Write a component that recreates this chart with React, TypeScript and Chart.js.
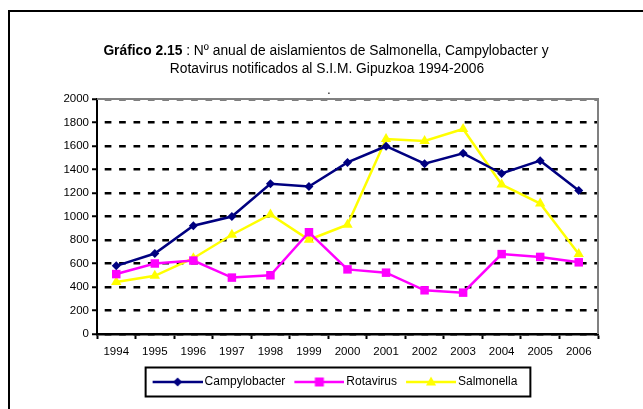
import React, { useEffect, useRef } from "react";
import { Chart, registerables } from "chart.js";

Chart.register(...registerables);

const years = ["1994","1995","1996","1997","1998","1999","2000","2001","2002","2003","2004","2005","2006"];
const campylobacter = [580, 685, 922, 1000, 1278, 1255, 1460, 1598, 1450, 1538, 1366, 1475, 1222];
const rotavirus = [510, 600, 625, 480, 500, 866, 550, 522, 372, 352, 680, 656, 610];
const salmonella = [442, 495, 645, 845, 1018, 802, 930, 1660, 1642, 1745, 1272, 1110, 680];
const seriesNames = ["Campylobacter", "Rotavirus", "Salmonella"];
const seriesColors = ["#000080", "#FF00FF", "#FFFF00"];
const seriesMarkers = ["rectRot", "rect", "triangle"];
const yTicks = { min: 0, max: 2000, step: 200 };
const titleBold = "Gráfico 2.15";
const titleRest = " : Nº anual de aislamientos de Salmonella, Campylobacter y";
const titleLine2 = "Rotavirus notificados al S.I.M. Gipuzkoa 1994-2006";

const FONT = "'Liberation Sans', Arial, sans-serif";
const TITLE_SIZE = 13.8;

function makeIcon(color: string, marker: string): HTMLCanvasElement {
  const c = document.createElement("canvas");
  c.width = 54;
  c.height = 14;
  const ctx = c.getContext("2d")!;
  ctx.strokeStyle = color;
  ctx.fillStyle = color;
  ctx.lineWidth = 2.5;
  ctx.beginPath();
  ctx.moveTo(4, 7);
  ctx.lineTo(54, 7);
  ctx.stroke();
  const cx = 29, cy = 7;
  ctx.beginPath();
  if (marker === "rectRot") {
    ctx.moveTo(cx, cy - 4.5); ctx.lineTo(cx + 4.5, cy); ctx.lineTo(cx, cy + 4.5); ctx.lineTo(cx - 4.5, cy);
  } else if (marker === "rect") {
    ctx.rect(cx - 4.5, cy - 4.5, 9, 9);
  } else {
    ctx.moveTo(cx, cy - 5.5); ctx.lineTo(cx + 5, cy + 3.5); ctx.lineTo(cx - 5, cy + 3.5);
  }
  ctx.closePath();
  ctx.fill();
  return c;
}

const decorPlugin = {
  id: "decor",
  beforeDatasetsDraw(chart: any) {
    const { ctx, chartArea } = chart;
    ctx.save();
    ctx.strokeStyle = "#808080";
    ctx.lineWidth = 2;
    ctx.beginPath();
    ctx.moveTo(chartArea.left, chartArea.top);
    ctx.lineTo(chartArea.right, chartArea.top);
    ctx.lineTo(chartArea.right, chartArea.bottom);
    ctx.stroke();
    ctx.restore();
  },
  afterDraw(chart: any) {
    const { ctx } = chart;
    ctx.save();
    // outer frame
    ctx.strokeStyle = "#000";
    ctx.lineWidth = 2;
    ctx.beginPath();
    ctx.moveTo(643, 11);
    ctx.lineTo(9, 11);
    ctx.lineTo(9, 409);
    ctx.stroke();
    // title
    ctx.fillStyle = "#000";
    ctx.textBaseline = "middle";
    ctx.font = `bold ${TITLE_SIZE}px ${FONT}`;
    const wb = ctx.measureText(titleBold).width;
    ctx.font = `${TITLE_SIZE}px ${FONT}`;
    const wr = ctx.measureText(titleRest).width;
    const x0 = 326 - (wb + wr) / 2;
    ctx.textAlign = "left";
    ctx.font = `bold ${TITLE_SIZE}px ${FONT}`;
    ctx.fillText(titleBold, x0, 51);
    ctx.font = `${TITLE_SIZE}px ${FONT}`;
    ctx.fillText(titleRest, x0 + wb, 51);
    ctx.textAlign = "center";
    ctx.fillText(titleLine2, 327, 69);
    ctx.font = `12px ${FONT}`;
    ctx.textBaseline = "alphabetic";
    ctx.fillText(".", 329, 94);
    // legend border
    const boxes = chart.legend && chart.legend.legendHitBoxes;
    if (boxes && boxes.length) {
      const first = boxes[0];
      const last = boxes[boxes.length - 1];
      const cy = first.top + first.height / 2;
      const left = first.left - 7;
      const right = last.left + last.width + 13;
      ctx.strokeStyle = "#000";
      ctx.lineWidth = 2;
      ctx.strokeRect(left, cy - 14.5, right - left, 29);
    }
    ctx.restore();
  },
};

export default function App() {
  const ref = useRef<HTMLCanvasElement>(null);
  useEffect(() => {
    document.body.style.margin = "0";
    const icons = seriesNames.map((_, i) => makeIcon(seriesColors[i], seriesMarkers[i]));
    const dataSets = [campylobacter, rotavirus, salmonella];
    const chart = new Chart(ref.current!, {
      type: "line",
      data: {
        labels: years,
        datasets: dataSets.map((d, i) => ({
          label: seriesNames[i],
          data: d,
          yAxisID: "y",
          borderColor: seriesColors[i],
          backgroundColor: seriesColors[i],
          borderWidth: 2.5,
          pointStyle: seriesMarkers[i] as any,
          pointRadius: i === 0 ? 4.5 : 6,
          pointBorderWidth: 0,
          pointBackgroundColor: seriesColors[i],
          tension: 0,
          fill: false,
        })),
      },
      options: {
        responsive: false,
        animation: false,
        layout: { padding: { left: 57, right: 30, top: 99, bottom: 11 } },
        plugins: {
          title: { display: false },
          tooltip: { enabled: false },
          legend: {
            position: "bottom",
            labels: {
              usePointStyle: true,
              pointStyleWidth: 46,
              padding: 9,
              color: "#000",
              font: { family: FONT, size: 12 },
              generateLabels: (ch: any) =>
                ch.data.datasets.map((ds: any, i: number) => ({
                  text: ds.label,
                  pointStyle: icons[i],
                  fillStyle: "transparent",
                  strokeStyle: "transparent",
                  lineWidth: 0,
                  hidden: false,
                  datasetIndex: i,
                  fontColor: "#000",
                })),
            },
          },
        },
        scales: {
          x: {
            offset: true,
            afterFit: (s: any) => { s.height = 33; },
            grid: {
              offset: true,
              drawOnChartArea: false,
              drawTicks: true,
              tickLength: 5,
              tickColor: "#000",
              tickWidth: 2,
            },
            border: { display: true, color: "#000", width: 2.5 },
            ticks: {
              color: "#000",
              padding: 6,
              maxRotation: 0,
              autoSkip: false,
              font: { family: FONT, size: 11.5 },
            },
          },
          y: {
            min: yTicks.min,
            max: yTicks.max,
            afterFit: (s: any) => { s.width = 40; },
            grid: {
              color: "#000",
              lineWidth: 2.5,
              tickLength: 5,
              tickColor: "#000",
              tickWidth: 2,
            },
            border: { display: true, color: "#000", width: 2, dash: [6.7, 7.7], dashOffset: 7.7 },
            ticks: {
              stepSize: yTicks.step,
              color: "#000",
              padding: 3,
              font: { family: FONT, size: 11.5 },
              callback: (v: any) => String(v),
            },
          },
          y2: {
            type: "linear",
            position: "right",
            min: yTicks.min,
            max: yTicks.max,
            afterFit: (s: any) => { s.width = 15; },
            grid: { display: false, drawTicks: false },
            border: { display: false },
            ticks: { display: false },
          },
        },
      },
      plugins: [decorPlugin],
    } as any);
    return () => chart.destroy();
  }, []);
  return (
    <canvas
      ref={ref}
      width={643}
      height={409}
      style={{ position: "fixed", left: 0, top: 0, display: "block", width: 643, height: 409 }}
    />
  );
}
